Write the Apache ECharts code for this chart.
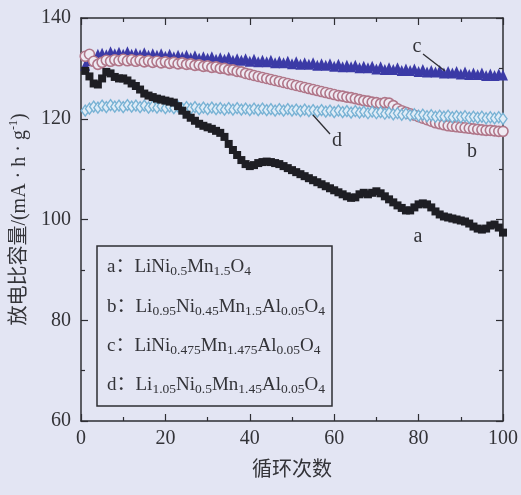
<!DOCTYPE html>
<html>
<head>
<meta charset="utf-8">
<script src="https://cdn.jsdelivr.net/npm/echarts@6/dist/echarts.min.js"></script>
<style>
html,body{margin:0;padding:0;background:#e3e5f3;}
#chart{width:521px;height:495px;}
</style>
</head>
<body>
<div id="chart"></div>
<script>
const cycles = [1,2,3,4,5,6,7,8,9,10,11,12,13,14,15,16,17,18,19,20,
21,22,23,24,25,26,27,28,29,30,31,32,33,34,35,36,37,38,39,40,
41,42,43,44,45,46,47,48,49,50,51,52,53,54,55,56,57,58,59,60,
61,62,63,64,65,66,67,68,69,70,71,72,73,74,75,76,77,78,79,80,
81,82,83,84,85,86,87,88,89,90,91,92,93,94,95,96,97,98,99,100];

const seriesA = [129.5,128.4,127.0,126.8,128.0,129.3,129.0,128.3,128.0,128.0,
127.6,127.0,126.5,125.8,125.0,124.6,124.3,124.0,123.8,123.6,
123.4,123.2,122.5,121.6,120.8,120.2,119.6,119.0,118.6,118.3,
118.0,117.6,117.2,116.4,115.0,113.8,112.8,111.8,111.0,110.6,
110.8,111.2,111.4,111.5,111.4,111.2,111.0,110.6,110.2,109.8,
109.4,109.0,108.6,108.2,107.8,107.4,107.0,106.6,106.2,105.8,
105.4,105.0,104.6,104.3,104.4,105.0,105.3,105.0,105.3,105.6,
105.2,104.6,104.0,103.4,102.8,102.3,101.8,101.8,102.4,103.0,
103.2,103.0,102.4,101.6,101.0,100.6,100.4,100.2,100.0,99.8,
99.6,99.2,98.6,98.2,98.0,98.2,98.8,99.0,98.4,97.4];

const seriesB = [132.4,132.8,131.4,130.8,131.2,131.6,131.4,131.7,131.5,131.8,
131.5,131.7,131.4,131.6,131.3,131.5,131.2,131.4,131.1,131.3,
131.0,131.2,130.9,131.1,130.8,130.9,130.6,130.7,130.4,130.5,
130.2,130.3,130.0,130.0,129.7,129.7,129.4,129.3,129.0,128.8,
128.6,128.4,128.2,128.0,127.8,127.6,127.4,127.2,127.0,126.8,
126.6,126.4,126.2,126.0,125.8,125.6,125.4,125.2,125.0,124.8,
124.6,124.5,124.3,124.2,124.0,123.8,123.6,123.5,123.3,123.2,
123.0,123.2,123.1,122.6,122.0,121.6,121.3,121.0,120.7,120.4,
120.1,119.8,119.5,119.2,119.0,118.8,118.6,118.5,118.4,118.3,
118.2,118.1,118.0,117.9,117.8,117.7,117.7,117.6,117.5,117.5];

const seriesC = [130.6,131.5,132.2,132.8,133.0,132.7,133.3,132.9,133.2,132.8,
133.3,132.8,133.0,132.7,133.1,132.6,132.9,132.6,132.9,132.4,
132.8,132.3,132.6,132.3,132.6,132.1,132.5,132.0,132.3,132.0,
132.3,131.8,132.1,131.8,132.2,131.6,131.9,131.6,131.9,131.4,
131.8,131.3,131.6,131.3,131.6,131.1,131.4,131.1,131.4,130.9,
131.3,130.8,131.1,130.8,131.1,130.6,130.9,130.6,130.9,130.4,
130.8,130.3,130.6,130.3,130.6,130.1,130.4,130.1,130.4,129.9,
130.3,129.8,130.1,129.8,130.1,129.6,129.9,129.6,129.9,129.4,
129.8,129.3,129.6,129.3,129.6,129.1,129.4,129.1,129.4,128.9,
129.3,128.8,129.1,128.8,129.1,128.6,128.9,128.6,128.9,128.7];

const seriesD = [121.6,122.0,122.4,122.2,122.6,122.3,122.7,122.4,122.6,122.3,
122.7,122.4,122.6,122.3,122.6,122.2,122.5,122.2,122.5,122.1,
122.4,122.1,122.4,122.0,122.3,122.0,122.3,121.9,122.2,121.9,
122.2,121.9,122.1,121.8,122.1,121.8,122.1,121.8,122.0,121.7,
122.0,121.7,122.0,121.7,121.9,121.6,121.9,121.6,121.9,121.6,
121.8,121.5,121.8,121.5,121.7,121.4,121.7,121.4,121.6,121.3,
121.6,121.3,121.5,121.2,121.5,121.2,121.4,121.1,121.4,121.1,
121.3,121.0,121.2,120.9,121.1,120.8,121.0,120.7,120.9,120.6,
120.8,120.5,120.7,120.4,120.6,120.4,120.6,120.3,120.5,120.3,
120.5,120.2,120.4,120.2,120.4,120.1,120.3,120.1,120.3,120.0];

const xTicks = {min: 0, max: 100, step: 20};
const yTicks = {min: 60, max: 140, step: 20};

const legendLines = [
  '{m|a：LiNi}{s|0.5}{m|Mn}{s|1.5}{m|O}{s|4}',
  '{m|b：Li}{s|0.95}{m|Ni}{s|0.45}{m|Mn}{s|1.5}{m|Al}{s|0.05}{m|O}{s|4}',
  '{m|c：LiNi}{s|0.475}{m|Mn}{s|1.475}{m|Al}{s|0.05}{m|O}{s|4}',
  '{m|d：Li}{s|1.05}{m|Ni}{s|0.5}{m|Mn}{s|1.45}{m|Al}{s|0.05}{m|O}{s|4}'
];
const curveLabels = ['a','b','c','d'];

function pairs(ys){ return cycles.map((x,i)=>[x, ys[i]]); }

const serif = "'Liberation Serif','Noto Sans CJK SC',serif";
const axisColor = '#2e2e33';
const textColor = '#333338';

const chart = echarts.init(document.getElementById('chart'), null, {renderer:'canvas'});

function mkX(pos, labels){
  return {
    type:'value', position:pos, min:xTicks.min, max:xTicks.max, interval:xTicks.step,
    axisLine:{show:true, onZero:false, lineStyle:{color:axisColor, width:1.5}},
    axisTick:{show:true, inside:true, length:7, lineStyle:{color:axisColor, width:1.2}},
    minorTick:{show:true, splitNumber:2, length:4, lineStyle:{color:axisColor, width:1.2}},
    splitLine:{show:false},
    axisLabel:{show:labels, margin:8, color:textColor, fontSize:20, fontFamily:serif},
    name: labels ? '循环次数' : '',
    nameLocation:'middle', nameGap:40,
    nameTextStyle:{color:textColor, fontSize:20, fontFamily:serif}
  };
}
function mkY(pos, labels){
  return {
    type:'value', position:pos, min:yTicks.min, max:yTicks.max, interval:yTicks.step,
    axisLine:{show:true, onZero:false, lineStyle:{color:axisColor, width:1.5}},
    axisTick:{show:true, inside:true, length:7, lineStyle:{color:axisColor, width:1.2}},
    minorTick:{show:true, splitNumber:2, length:4, lineStyle:{color:axisColor, width:1.2}},
    splitLine:{show:false},
    axisLabel:{show:labels, margin:10, color:textColor, fontSize:20, fontFamily:serif},
    name: labels ? '{t|放电比容量/(mA · h · g}{sup|-1}{t|)}' : '',
    nameLocation:'middle', nameGap:47, nameRotate:90,
    nameTextStyle:{color:textColor, fontSize:20, fontFamily:serif,
      rich:{t:{fontSize:20, fontFamily:serif, color:textColor, lineHeight:24},
            sup:{fontSize:12, fontFamily:serif, color:textColor, lineHeight:12, verticalAlign:'top'}}}
  };
}

const option = {
  backgroundColor:'#e3e5f3',
  animation:false,
  grid:{left:81, right:16, top:18, bottom:74},
  xAxis:[mkX('bottom', true), mkX('top', false)],
  yAxis:[mkY('left', true), mkY('right', false)],
  series:[
    {name:'c', type:'scatter', z:2, data:pairs(seriesC), symbol:'triangle', symbolSize:[10,11],
     itemStyle:{color:'#3b3aa6', opacity:1}},
    {name:'b', type:'scatter', z:3, data:pairs(seriesB), symbol:'circle', symbolSize:10,
     itemStyle:{color:'#efeaf3', borderColor:'#b07689', borderWidth:1.6, opacity:1}},
    {name:'d', type:'scatter', z:4, data:pairs(seriesD), symbol:'diamond', symbolSize:[8,11],
     itemStyle:{color:'#e0ecf7', borderColor:'#78b2d4', borderWidth:1.4, opacity:1}},
    {name:'a', type:'scatter', z:5, data:pairs(seriesA), symbol:'rect', symbolSize:8,
     itemStyle:{color:'#1e1e24', opacity:1}}
  ]
};
chart.setOption(option);

const richLegend = {
  m:{fontSize:19, fontFamily:serif, color:textColor, lineHeight:23, verticalAlign:'middle'},
  s:{fontSize:13.5, fontFamily:serif, color:textColor, lineHeight:13, verticalAlign:'bottom'}
};
const legendY = [267, 307, 346, 385];
const graphics = [
  {type:'rect', shape:{x:97, y:246, width:235, height:160}, style:{fill:null, stroke:axisColor, lineWidth:1.5}, z:10}
];
legendLines.forEach((t,i)=>{
  graphics.push({type:'text', x:107, y:legendY[i], z:11,
    style:{text:t, rich:richLegend, verticalAlign:'middle', align:'left', font:'19px '+serif, fill:textColor}});
});
const ann = [
  {t:curveLabels[2], x:417, y:47, line:[423,54,445,71]},
  {t:curveLabels[3], x:337, y:141, line:[313,115,330,134]},
  {t:curveLabels[1], x:472, y:152, line:null},
  {t:curveLabels[0], x:418, y:237, line:null}
];
ann.forEach(a=>{
  graphics.push({type:'text', x:a.x, y:a.y, z:11,
    style:{text:a.t, font:'20px '+serif, fill:textColor, align:'center', verticalAlign:'middle'}});
  if(a.line){
    graphics.push({type:'line', z:11, shape:{x1:a.line[0], y1:a.line[1], x2:a.line[2], y2:a.line[3]},
      style:{stroke:axisColor, lineWidth:1.3}});
  }
});
chart.setOption({graphic:graphics});
</script>
</body>
</html>
